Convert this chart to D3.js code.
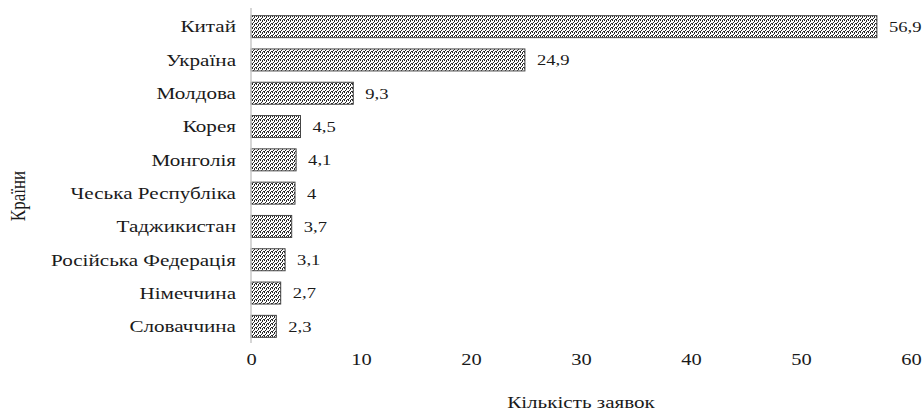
<!DOCTYPE html>
<html><head><meta charset="utf-8">
<script src="https://cdn.jsdelivr.net/npm/d3@7/dist/d3.min.js"></script>
<style>body{margin:0;background:#fff}svg{display:block}</style>
</head><body><svg id="c" width="924" height="414"></svg>
<script>
const categories = ["Китай","Україна","Молдова","Корея","Монголія","Чеська Республіка","Таджикистан","Російська Федерація","Німеччина","Словаччина"];
const values = [56.9,24.9,9.3,4.5,4.1,4,3.7,3.1,2.7,2.3];
const valueLabels = ["56,9","24,9","9,3","4,5","4,1","4","3,7","3,1","2,7","2,3"];
const xTicks = [0,10,20,30,40,50,60];
const xTitle = "Кількість заявок";
const yTitle = "Країни";

const FONT = "'Liberation Serif', monospace";
const SX = 1.28;
const svg = d3.select("#c");
const defs = svg.append("defs");
const pat = defs.append("pattern").attr("id","dots").attr("patternUnits","userSpaceOnUse").attr("width",4).attr("height",4);
pat.append("rect").attr("width",4).attr("height",4).attr("fill","#fff");
[[0,0],[2,1],[1,2],[3,3],[2,0],[0,3]].forEach(([x,y])=>pat.append("rect").attr("x",x).attr("y",y).attr("width",1).attr("height",1).attr("fill","#2a2a2a"));

const x = d3.scaleLinear().domain([0,60]).range([251,911]);
const y = d3.scaleBand().domain(categories).range([10,343]).paddingInner(0.34).paddingOuter(0.17);

svg.append("g").selectAll("rect").data(values).join("rect")
  .attr("x",x(0)).attr("y",(d,i)=>y(categories[i]))
  .attr("width",d=>x(d)-x(0)).attr("height",y.bandwidth())
  .attr("fill","url(#dots)").attr("stroke","#444").attr("stroke-width",1);

svg.append("line").attr("x1",x(0)).attr("x2",x(0)).attr("y1",8).attr("y2",343).attr("stroke","#c8c8c8").attr("stroke-width",1.5);

function txt(sel){ return sel.attr("font-family",FONT).attr("fill","#1a1a1a"); }

txt(svg.append("g").selectAll("text").data(categories).join("text"))
  .attr("transform",d=>`translate(236,${y(d)+y.bandwidth()/2}) scale(${SX},1)`).attr("dy","0.35em")
  .attr("text-anchor","end").attr("font-size",16.5).text(d=>d);

txt(svg.append("g").selectAll("text").data(values).join("text"))
  .attr("transform",(d,i)=>`translate(${x(d)+12},${y(categories[i])+y.bandwidth()/2}) scale(1.2,1)`).attr("dy","0.35em")
  .attr("font-size",15.5).text((d,i)=>valueLabels[i]);

const ax = d3.axisBottom(x).tickValues(xTicks).tickSize(0).tickPadding(0).tickFormat(d3.format("d"));
const g = svg.append("g").attr("transform","translate(0,365)").call(ax);
g.attr("font-family",FONT).attr("font-size",16);
g.select(".domain").remove();
txt(g.selectAll("text")).attr("dy","0").attr("y",0).attr("transform",`scale(${SX},1)`).attr("x",0);

txt(svg.append("text")).attr("transform",`translate(581,408) scale(${SX},1)`).attr("text-anchor","middle").attr("font-size",16.5).text(xTitle);
txt(svg.append("text")).attr("transform","translate(25,196) rotate(-90) scale(1,1.27)").attr("text-anchor","middle").attr("font-size",17).text(yTitle);
</script></body></html>
